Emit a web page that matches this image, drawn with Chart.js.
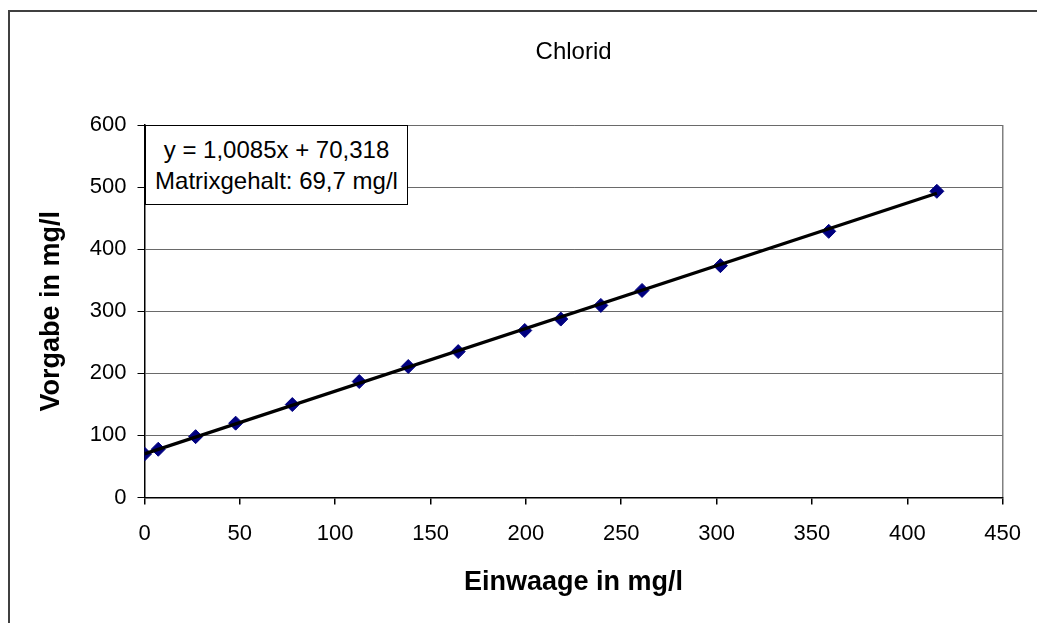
<!DOCTYPE html>
<html>
<head>
<meta charset="utf-8">
<script src="https://cdn.jsdelivr.net/npm/chart.js@4/dist/chart.umd.min.js"></script>
<style>
  html, body { margin: 0; padding: 0; background: #fff; overflow: hidden; }
  #frame { position: absolute; left: 8px; top: 10px; width: 1040px; height: 620px;
           border-top: 2px solid #404040; border-left: 2px solid #404040; }
  #wrap { position: absolute; left: 0; top: 0; width: 1037px; height: 623px; }
  #eq { position: absolute; left: 145px; top: 125px; width: 263px; height: 80px;
        border: 1px solid #000; background: #fff; color: #000;
        font-family: 'Liberation Sans', Arial, sans-serif; font-size: 24px;
        text-align: center; line-height: 31px; padding-top: 8px; box-sizing: border-box; }
</style>
</head>
<body>
<div id="frame"></div>
<div id="wrap"><canvas id="c" width="1037" height="623"></canvas></div>
<div id="eq"><div id="eqLine"></div><div id="matrixLine"></div></div>
<script>
// ---- data ----
const einwaage = [0, 7.2, 26.8, 47.8, 77.5, 112.6, 138.3, 164.5, 199.4, 218.3, 239.3, 260.9, 302, 358.8, 415.5];
const vorgabe  = [70, 77.7, 98, 119.7, 149.7, 186.8, 211, 235, 269, 287.4, 309.4, 333.5, 373.4, 428.7, 493.2];
const trendX = [0, 415.5];
const trendY = [70.3, 490];
const xTickValues = [0, 50, 100, 150, 200, 250, 300, 350, 400, 450];
const yTickValues = [0, 100, 200, 300, 400, 500, 600];
const chartTitle = 'Chlorid';
const xTitle = 'Einwaage in mg/l';
const yTitle = 'Vorgabe in mg/l';
const equationText = 'y = 1,0085x + 70,318';
const matrixText = 'Matrixgehalt: 69,7 mg/l';

document.getElementById('eqLine').textContent = equationText;
document.getElementById('matrixLine').textContent = matrixText;

const FONT = "'Liberation Sans', Arial, sans-serif";

new Chart(document.getElementById('c'), {
  type: 'scatter',
  data: {
    datasets: [
      {
        label: 'Trend',
        data: trendX.map((x, i) => ({ x: x, y: trendY[i] })),
        showLine: true,
        borderColor: '#000',
        borderWidth: 3.2,
        pointRadius: 0,
        fill: false
      },
      {
        label: chartTitle,
        data: einwaage.map((x, i) => ({ x: x, y: vorgabe[i] })),
        showLine: false,
        pointStyle: 'rectRot',
        pointRadius: 7,
        backgroundColor: '#000080',
        borderColor: '#000080',
        borderWidth: 1
      }
    ]
  },
  options: {
    responsive: false,
    animation: false,
    layout: { padding: { left: 0, right: 34, top: 0, bottom: 0 } },
    plugins: {
      legend: { display: false },
      tooltip: { enabled: false },
      title: {
        display: true,
        text: chartTitle,
        fullSize: false,
        color: '#000',
        font: { family: FONT, size: 24, weight: 'normal' },
        padding: { top: 37.6, bottom: 58.6 }
      }
    },
    scales: {
      x: {
        type: 'linear',
        min: 0, max: 450,
        afterBuildTicks: s => { s.ticks = xTickValues.map(v => ({ value: v })); },
        ticks: { color: '#000', font: { family: FONT, size: 22 }, padding: 16, maxRotation: 0 },
        grid: {
          drawOnChartArea: true,
          color: c => (c.tick && c.tick.value === 450) ? '#808080' : 'rgba(0,0,0,0)',
          tickColor: '#000',
          tickLength: 7,
          lineWidth: 1.5
        },
        border: { color: '#000', width: 1.5 },
        title: {
          display: true, text: xTitle, color: '#000',
          font: { family: FONT, size: 27, weight: 'bold' },
          padding: { top: 0, bottom: 24 }
        },
        afterFit: s => { s.height = 125.5; }
      },
      y: {
        type: 'linear',
        min: 0, max: 600,
        afterBuildTicks: s => { s.ticks = yTickValues.map(v => ({ value: v })); },
        ticks: { color: '#000', font: { family: FONT, size: 22 }, padding: 11 },
        grid: { color: '#6a6a6a', tickColor: '#000', tickLength: 7, lineWidth: 1 },
        border: { color: '#000', width: 1.5 },
        title: {
          display: true, text: yTitle, color: '#000',
          font: { family: FONT, size: 27, weight: 'bold' },
          padding: { top: 35.8, bottom: 0 }
        },
        afterFit: s => { s.width = 144.5; }
      }
    }
  }
});
</script>
</body>
</html>
